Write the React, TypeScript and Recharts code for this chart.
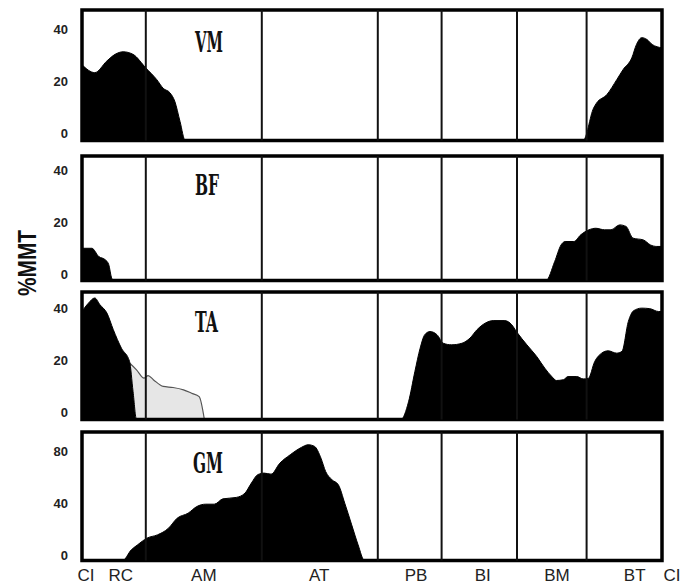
import { ComposedChart, Area, XAxis, YAxis, ReferenceLine, ReferenceArea } from 'recharts'

// gait cycle (%) boundaries between phases
const PHASE_BOUNDS = [11, 31, 51, 62, 75, 87]
const PHASE_LABELS = ['CI', 'RC', 'AM', 'AT', 'PB', 'BI', 'BM', 'BT', 'CI']
const PHASE_LABEL_POS = [0.7, 6.7, 21, 40.9, 57.6, 69.1, 81.9, 95.3, 100]

// VM
const VM_X = [0, 2.2, 4.3, 5.7, 7.1, 8.8, 11, 12.9, 14, 15.2, 16, 16.9, 17.8, 86.4, 88.2, 88.7, 90.5, 92.2, 93.3, 94.8, 95.6, 96.5, 97.4, 98.3, 100]
const VM_Y = [29, 26, 30.5, 33, 34, 33, 27.8, 23.3, 20, 18.2, 15, 7.3, 0, 0, 12.4, 14.3, 17.6, 23.3, 27.2, 31.7, 36.8, 39.4, 38.7, 36.8, 35.5]

// BF
const BF_X = [0, 1.7, 2.9, 4, 4.6, 5.1, 5.4, 80, 81.5, 82.6, 83.3, 84.8, 86, 87.4, 88.6, 90.1, 91.2, 92.7, 93.8, 95, 96.8, 98, 99.1, 100]
const BF_Y = [12.4, 12.4, 9.2, 8, 6.2, 1, 0, 0, 7.3, 13.7, 15, 15, 17.6, 19.5, 20.1, 19.5, 19.5, 21.4, 20.8, 16.3, 15.6, 13.7, 13.1, 13.1]

// TA (black) and the grey passive part
const TA_X = [0, 1.1, 2.2, 3.1, 4.3, 5.4, 6.8, 8.2, 8.8, 9.4, 55, 56.3, 57.4, 58.3, 59.1, 60, 61.2, 62.3, 63.7, 65.5, 66.9, 68.1, 69.5, 70.9, 72.9, 74.1, 74.9, 76.7, 78.4, 79.8, 81, 81.8, 83, 83.8, 85.3, 86.4, 87.3, 88.4, 89.6, 90.7, 92.2, 93.1, 94.2, 95.1, 96.5, 97.9, 99.4, 100]
const TA_Y = [41.5, 44.7, 46.7, 44.1, 40.9, 34.5, 27.4, 22.3, 10.8, 0, 0, 6.8, 18.5, 27.4, 32.6, 33.8, 32.6, 29.3, 28.7, 29.3, 31.3, 34.5, 37, 38, 38, 36.4, 33.8, 28.7, 24.2, 19.7, 16.5, 15, 15.3, 16.5, 16.5, 15.6, 15.8, 22.3, 25.5, 26.4, 25.5, 26.2, 37.7, 41.8, 42.8, 42.6, 41.5, 41.5]
const TA_GREY_X = [8.2, 9.4, 10.7, 11.4, 12.3, 14, 15.7, 17.5, 18.9, 20.2, 21.1]
const TA_GREY_Y = [21.7, 19.1, 15.9, 16.9, 15.3, 12.7, 12.3, 11.4, 10.1, 8.8, 0]

// GM
const GM_X = [0, 7, 8.5, 9.6, 11.2, 13, 14.9, 16.4, 18.3, 19.8, 21.3, 22.8, 24.3, 26.6, 28.1, 29.2, 30.3, 31.4, 32.6, 34.1, 35.9, 37.8, 39, 40.1, 41.2, 42, 43.1, 44.2, 45.3, 46.5, 47.6, 48.7, 100]
const GM_Y = [0, 0, 8.2, 12.1, 17.2, 19.7, 24.8, 32.5, 36.4, 41.5, 43.3, 43.3, 47.4, 48.5, 51.8, 59.5, 66, 67.2, 66.4, 74.8, 81.3, 86.9, 89, 87.7, 78.7, 68.5, 62.1, 58.2, 44.1, 27.4, 12.1, 0, 0]

const zip = (xs: number[], ys: number[]) => xs.map((x, i) => ({ x, y: ys[i] }))

const W = 683
const LEFT = 82
const RIGHT = 662

const YTick = ({ x, y, payload, shift }: any) => (
  <text
    x={x}
    y={y + shift}
    textAnchor="end"
    dominantBaseline="central"
    fontFamily="'Liberation Sans', Arial, sans-serif"
    fontWeight="bold"
    fontSize={13}
    fill="#222"
  >
    {payload.value}
  </text>
)

const XTick = ({ x, y, payload }: any) => {
  const i = PHASE_LABEL_POS.indexOf(payload.value)
  const last = i === PHASE_LABEL_POS.length - 1
  return (
    <text
      x={x + (last ? 10 : 0)}
      y={y + 13}
      textAnchor="middle"
      dominantBaseline="central"
      fontFamily="'Liberation Sans Narrow', 'Liberation Sans', Arial, sans-serif"
      fontSize={17}
      fill="#222"
    >
      {PHASE_LABELS[i]}
    </text>
  )
}

interface Series {
  data: { x: number; y: number }[]
  fill: string
  stroke: string
  strokeWidth?: number
}

interface PanelProps {
  top: number
  bottom: number
  ymax: number
  ticks: number[]
  shift: number
  series: Series[]
  xAxis?: boolean
}

const Panel = ({ top, bottom, ymax, ticks, shift, series, xAxis }: PanelProps) => {
  const pad = 4
  const axisH = xAxis ? 26 : 0
  const h = bottom - top + pad * 2 + axisH
  return (
    <div style={{ position: 'absolute', left: 0, top: top - pad }}>
      <ComposedChart width={W} height={h} margin={{ top: pad, right: W - RIGHT, bottom: pad, left: 0 }}>
        <XAxis
          type="number"
          dataKey="x"
          domain={[0, 100]}
          allowDataOverflow
          hide={!xAxis}
          height={axisH}
          ticks={PHASE_LABEL_POS}
          interval={0}
          axisLine={false}
          tickLine={false}
          tickSize={0}
          tick={<XTick />}
        />
        <YAxis
          type="number"
          domain={[0, ymax]}
          allowDataOverflow
          ticks={ticks}
          interval={0}
          width={LEFT}
          axisLine={false}
          tickLine={false}
          tickSize={0}
          tickMargin={14}
          tick={<YTick shift={shift} />}
        />
        {PHASE_BOUNDS.map(p => (
          <ReferenceLine key={p} x={p} stroke="#111" strokeWidth={2} />
        ))}
        {series.map((s, i) => (
          <Area
            key={i}
            data={s.data}
            dataKey="y"
            type="monotone"
            fill={s.fill}
            fillOpacity={1}
            stroke={s.stroke}
            strokeWidth={s.strokeWidth ?? 1}
            dot={false}
            activeDot={false}
            isAnimationActive={false}
          />
        ))}
        <ReferenceArea x1={0} x2={100} y1={0} y2={ymax} fill="none" fillOpacity={0} stroke="#000" strokeWidth={3.5} />
      </ComposedChart>
    </div>
  )
}

const titleStyle = {
  fontFamily: "'DejaVu Serif', 'Liberation Serif', serif",
  fontWeight: 'bold' as const,
  fontSize: 28,
  fill: '#111',
}

const App = () => (
  <div style={{ position: 'absolute', left: 0, top: 0, width: W, height: 586, background: '#fff' }}>
    <Panel top={9.5} bottom={140} ymax={50} ticks={[0, 20, 40]} shift={-7}
      series={[{ data: zip(VM_X, VM_Y), fill: '#000', stroke: '#000' }]} />
    <Panel top={155.5} bottom={280} ymax={47.9} ticks={[0, 20, 40]} shift={-6}
      series={[{ data: zip(BF_X, BF_Y), fill: '#000', stroke: '#000' }]} />
    <Panel top={291.5} bottom={419} ymax={49} ticks={[0, 20, 40]} shift={-7}
      series={[
        { data: zip(TA_GREY_X, TA_GREY_Y), fill: '#e6e6e6', stroke: '#555', strokeWidth: 1.2 },
        { data: zip(TA_X, TA_Y), fill: '#000', stroke: '#000' },
      ]} />
    <Panel top={432} bottom={560.5} ymax={98.8} ticks={[0, 40, 80]} shift={-5} xAxis
      series={[{ data: zip(GM_X, GM_Y), fill: '#000', stroke: '#000' }]} />
    <svg width={W} height={586} style={{ position: 'absolute', left: 0, top: 0, pointerEvents: 'none' }}>
      <text x={195} y={52} textLength={28} lengthAdjust="spacingAndGlyphs" {...titleStyle}>VM</text>
      <text x={195} y={195} textLength={24} lengthAdjust="spacingAndGlyphs" {...titleStyle}>BF</text>
      <text x={195} y={332} textLength={23} lengthAdjust="spacingAndGlyphs" {...titleStyle}>TA</text>
      <text x={193} y={473} textLength={30} lengthAdjust="spacingAndGlyphs" {...titleStyle}>GM</text>
      <text
        transform="translate(27,263) rotate(-90)"
        textAnchor="middle"
        dominantBaseline="central"
        fontFamily="'Liberation Sans', Arial, sans-serif"
        fontWeight="bold"
        fontSize={26}
        textLength={66}
        lengthAdjust="spacingAndGlyphs"
        fill="#111"
      >
        %MMT
      </text>
    </svg>
  </div>
)

export default App
